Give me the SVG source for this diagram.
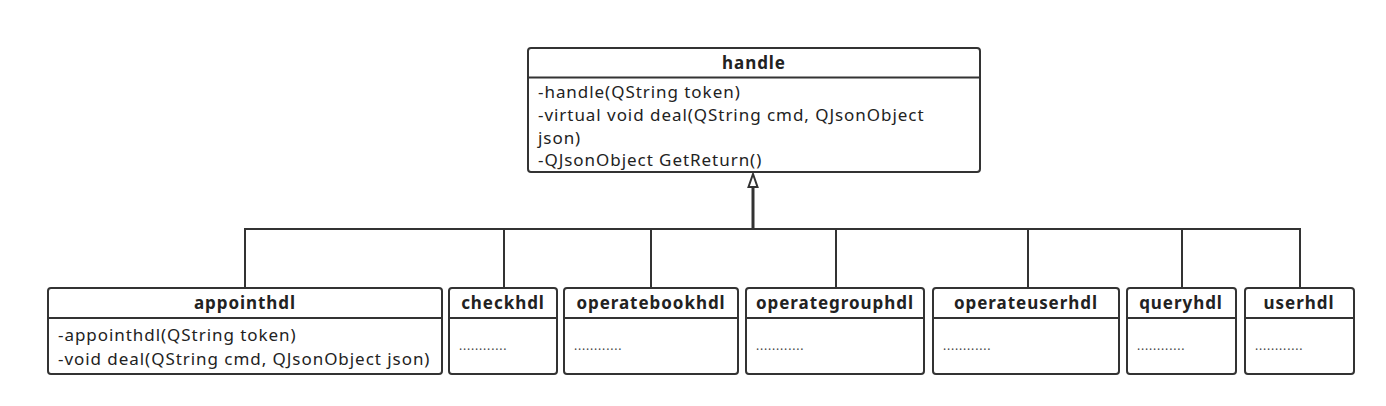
<svg xmlns="http://www.w3.org/2000/svg" width="1386" height="406" viewBox="0 0 1386 406">
<style>
.box{fill:#fff;stroke:#333;stroke-width:2}
.div{stroke:#333;stroke-width:2}
.t{font-family:"Noto Sans","Open Sans","DejaVu Sans",sans-serif;font-size:17px;letter-spacing:0.95px;fill:#222}
.b{font-weight:bold;text-anchor:middle}
.d{font-size:12px;letter-spacing:0.8px;fill:#444}
.ln{fill:none;stroke:#333;stroke-width:2}
</style>
<rect width="1386" height="406" fill="#fff"/>
<g id="connectors">
<polyline class="ln" points="245,288 245,229 1300,229 1300,288"/>
<line class="ln" x1="504" y1="229" x2="504" y2="288"/>
<line class="ln" x1="651" y1="229" x2="651" y2="288"/>
<line class="ln" x1="836" y1="229" x2="836" y2="288"/>
<line class="ln" x1="1028" y1="229" x2="1028" y2="288"/>
<line class="ln" x1="1182" y1="229" x2="1182" y2="288"/>
<line x1="753" y1="229" x2="753" y2="187" stroke="#333" stroke-width="3"/>
<polygon points="753,174 748.5,187 757.5,187" fill="#fff" stroke="#333" stroke-width="2" stroke-linejoin="miter"/>
</g>
<g id="handle">
<rect class="box" x="528" y="48" width="452" height="124" rx="3"/>
<line class="div" x1="528" y1="77.5" x2="980" y2="77.5"/>
<text class="t b" x="754" y="69">handle</text>
<text class="t" x="538" y="98">-handle(QString token)</text>
<text class="t" x="538" y="121">-virtual void deal(QString cmd, QJsonObject</text>
<text class="t" x="538" y="144">json)</text>
<text class="t" x="538" y="166">-QJsonObject GetReturn()</text>
</g>
<g id="appointhdl">
<rect class="box" x="48" y="288" width="394" height="86" rx="3"/>
<line class="div" x1="48" y1="318" x2="442" y2="318"/>
<text class="t b" x="245" y="309">appointhdl</text>
<text class="t" x="58" y="341">-appointhdl(QString token)</text>
<text class="t" x="58" y="365">-void deal(QString cmd, QJsonObject json)</text>
</g>
<g id="checkhdl">
<rect class="box" x="449" y="288" width="108" height="86" rx="3"/>
<line class="div" x1="449" y1="318" x2="557" y2="318"/>
<text class="t b" x="503" y="309">checkhdl</text>
<text class="t d" x="459" y="350">............</text>
</g>
<g id="operatebookhdl">
<rect class="box" x="564" y="288" width="174" height="86" rx="3"/>
<line class="div" x1="564" y1="318" x2="738" y2="318"/>
<text class="t b" x="651" y="309">operatebookhdl</text>
<text class="t d" x="574" y="350">............</text>
</g>
<g id="operategrouphdl">
<rect class="box" x="746" y="288" width="178" height="86" rx="3"/>
<line class="div" x1="746" y1="318" x2="924" y2="318"/>
<text class="t b" x="835" y="309">operategrouphdl</text>
<text class="t d" x="756" y="350">............</text>
</g>
<g id="operateuserhdl">
<rect class="box" x="933" y="288" width="186" height="86" rx="3"/>
<line class="div" x1="933" y1="318" x2="1119" y2="318"/>
<text class="t b" x="1026" y="309">operateuserhdl</text>
<text class="t d" x="943" y="350">............</text>
</g>
<g id="queryhdl">
<rect class="box" x="1127" y="288" width="109" height="86" rx="3"/>
<line class="div" x1="1127" y1="318" x2="1236" y2="318"/>
<text class="t b" x="1181" y="309">queryhdl</text>
<text class="t d" x="1137" y="350">............</text>
</g>
<g id="userhdl">
<rect class="box" x="1245" y="288" width="109" height="86" rx="3"/>
<line class="div" x1="1245" y1="318" x2="1354" y2="318"/>
<text class="t b" x="1299" y="309">userhdl</text>
<text class="t d" x="1255" y="350">............</text>
</g>
</svg>
